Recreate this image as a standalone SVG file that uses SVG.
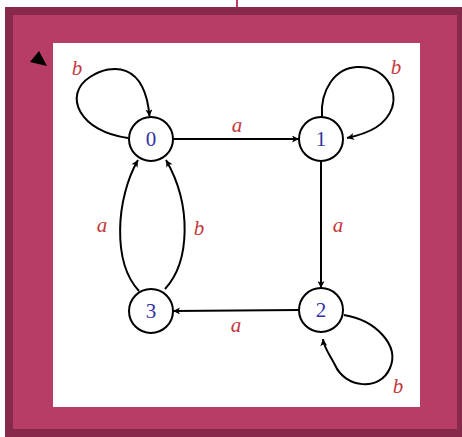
<svg xmlns="http://www.w3.org/2000/svg" width="462" height="437" viewBox="0 0 462 437">
<style>
.node circle{fill:#fff;stroke:#000;stroke-width:2}
.node text{font-family:"Liberation Serif",serif;font-size:21px;fill:#3232a6;text-anchor:middle}
.edge{fill:none;stroke:#000;stroke-width:2}
.lbl{font-family:"Liberation Serif",serif;font-style:italic;font-size:21px;fill:#c4383e;text-anchor:middle}
</style>
<defs>
<marker id="arr" viewBox="0 0 10 10" refX="10" refY="5" markerWidth="9" markerHeight="7" markerUnits="userSpaceOnUse" orient="auto">
<path d="M0,0 L10,5 L0,10 L2.5,5 z" fill="#000"/>
</marker>
</defs>
<rect width="462" height="437" fill="#fff"/>
<line x1="237" y1="0" x2="237" y2="11" stroke="#b83d66" stroke-width="2"/>
<rect x="9" y="11" width="452" height="422" fill="#b83d66" stroke="#87294a" stroke-width="8"/>
<rect x="53" y="43" width="367" height="364" fill="#fff"/>
<polygon points="30,62 39,51 47,66" fill="#000"/>
<g id="connectors">
<path class="edge" d="M173,139 L299,139" marker-end="url(#arr)"/>
<path class="edge" d="M321,161 L321,288" marker-end="url(#arr)"/>
<path class="edge" d="M299,310 L173,311" marker-end="url(#arr)"/>
<path class="edge" d="M139,291 C112,262 116,198 138,160" marker-end="url(#arr)"/>
<path class="edge" d="M165,289 C190,262 192,205 166,160" marker-end="url(#arr)"/>
<path class="edge" d="M128,138 C80,132 62,95 90,77 C112,63 145,62 149.5,116.5" marker-end="url(#arr)"/>
<path class="edge" d="M322,117 C320,90 335,68 357,67 C385,66 398,90 392,108 C386,125 370,133 347,138" marker-end="url(#arr)"/>
<path class="edge" d="M344,315 C375,320 400,345 390,368 C380,392 345,388 335,365 C330,355 324,348 323,339" marker-end="url(#arr)"/>
<text class="lbl" x="237" y="132">a</text>
<text class="lbl" x="338" y="232">a</text>
<text class="lbl" x="236" y="332">a</text>
<text class="lbl" x="102" y="232">a</text>
<text class="lbl" x="199" y="235">b</text>
<text class="lbl" x="77" y="75">b</text>
<text class="lbl" x="396" y="74">b</text>
<text class="lbl" x="398" y="393">b</text>
</g>
<g id="node0" class="node"><circle cx="151" cy="139" r="22"/><text x="151" y="146">0</text></g>
<g id="node1" class="node"><circle cx="321" cy="139" r="22"/><text x="321" y="146">1</text></g>
<g id="node2" class="node"><circle cx="321" cy="310" r="22"/><text x="321" y="317">2</text></g>
<g id="node3" class="node"><circle cx="151" cy="311" r="22"/><text x="151" y="318">3</text></g>
</svg>
